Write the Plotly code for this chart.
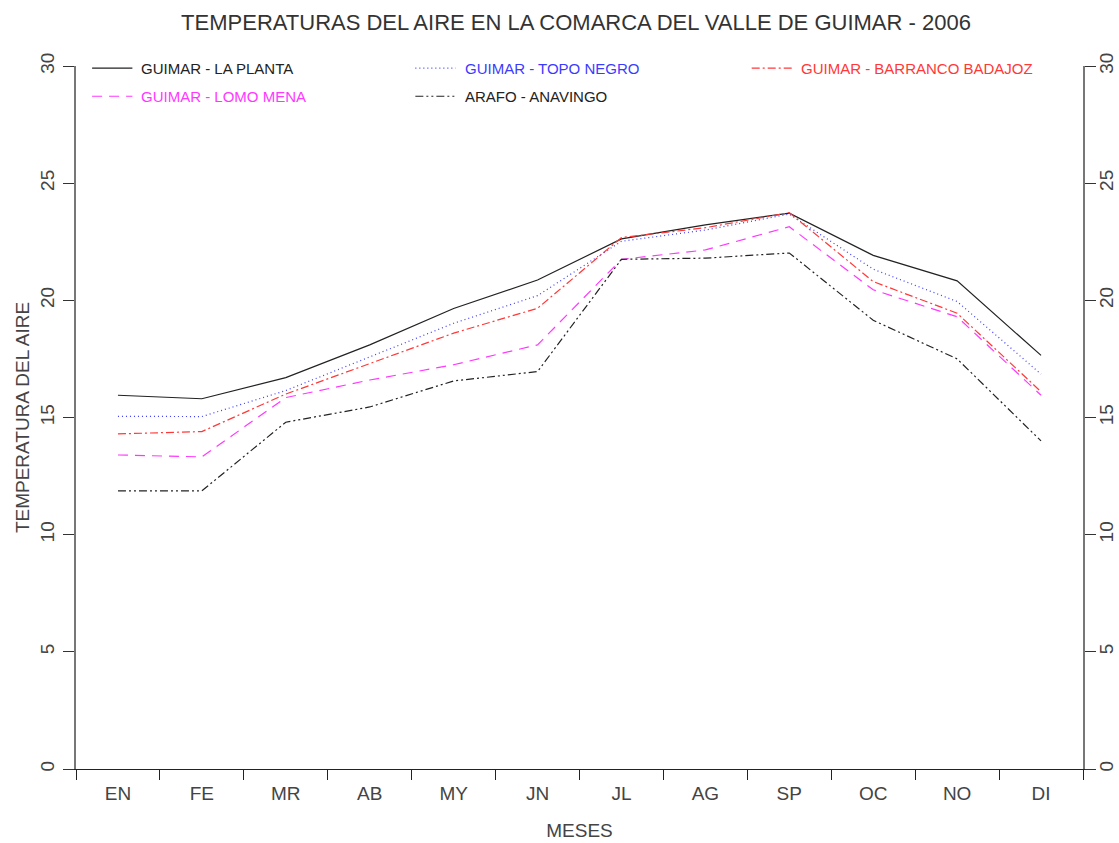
import plotly.graph_objects as go

months = ["EN", "FE", "MR", "AB", "MY", "JN", "JL", "AG", "SP", "OC", "NO", "DI"]
la_planta = [15.95, 15.8, 16.7, 18.1, 19.65, 20.87, 22.62, 23.22, 23.72, 21.92, 20.83, 17.65]
topo_negro = [15.05, 15.04, 16.15, 17.6, 19.02, 20.2, 22.52, 23.0, 23.68, 21.33, 19.95, 16.85]
barranco_badajoz = [14.3, 14.4, 16.0, 17.3, 18.6, 19.66, 22.68, 23.1, 23.74, 20.8, 19.45, 16.1]
lomo_mena = [13.4, 13.32, 15.85, 16.6, 17.25, 18.1, 21.75, 22.15, 23.14, 20.45, 19.3, 15.95]
arafo_anavingo = [11.87, 11.87, 14.8, 15.45, 16.56, 16.96, 21.75, 21.8, 22.02, 19.15, 17.5, 14.0]

series = [
    ("GUIMAR - LA PLANTA", la_planta, "#222222", "solid"),
    ("GUIMAR - TOPO NEGRO", topo_negro, "#3b3bff", "1px,3px"),
    ("GUIMAR - BARRANCO BADAJOZ", barranco_badajoz, "#ff3838", "8px,3px,2px,3px"),
    ("GUIMAR - LOMO MENA", lomo_mena, "#ff38ff", "10px,7px"),
    ("ARAFO - ANAVINGO", arafo_anavingo, "#222222", "8px,3px,2px,3px,2px,3px"),
]

# legend slots (paper coordinates): x of sample start, y of row
legend_slots = [(0.016, 0.997), (0.337, 0.997), (0.671, 0.997),
                (0.016, 0.957), (0.337, 0.957)]
SAMPLE_W = 0.040
TEXT_GAP = 0.007

FONT = "Liberation Sans"
fig = go.Figure()
for name, vals, color, dash in series:
    fig.add_trace(go.Scatter(
        x=months, y=vals, mode="lines", name=name, showlegend=False,
        line=dict(color=color, width=1.2, dash=dash),
    ))
# hidden trace to activate the right-hand axis
fig.add_trace(go.Scatter(x=months, y=la_planta, yaxis="y2", mode="lines",
                         line=dict(color="rgba(0,0,0,0)"), showlegend=False,
                         hoverinfo="skip"))

# manual legend
for (name, _, color, dash), (lx, ly) in zip(series, legend_slots):
    fig.add_shape(type="line", xref="paper", yref="paper",
                  x0=lx, x1=lx + SAMPLE_W, y0=ly, y1=ly,
                  line=dict(color=color, width=1.2, dash=dash))
    fig.add_annotation(xref="paper", yref="paper", x=lx + SAMPLE_W + TEXT_GAP, y=ly,
                       xanchor="left", yanchor="middle", showarrow=False,
                       text=name, font=dict(family=FONT, size=15, color=color))

axis_font = dict(family=FONT, size=19, color="#444444")
fig.update_layout(
    width=1119, height=843,
    margin=dict(l=76, r=36, t=66, b=74),
    paper_bgcolor="white", plot_bgcolor="white",
    font=dict(family=FONT, color="#444444"),
    title=dict(text="TEMPERATURAS DEL AIRE EN LA COMARCA DEL VALLE DE GUIMAR - 2006",
               x=576 / 1119, xanchor="center", y=1 - 22 / 843, yanchor="middle",
               yref="container", font=dict(family=FONT, size=22, color="#333333")),
    showlegend=False,
    xaxis=dict(type="category", range=[-0.5, 11.5], tickson="boundaries",
               ticks="outside", ticklen=10, tickcolor="#222222",
               showline=True, linecolor="#222222", linewidth=1,
               showgrid=False, zeroline=False, tickfont=axis_font, automargin=False,
               ticklabelstandoff=7,
               title=dict(text="MESES", font=axis_font, standoff=20)),
    yaxis=dict(range=[0, 30], tickvals=[0, 5, 10, 15, 20, 25, 30],
               ticks="outside", ticklen=11, tickcolor="#333333",
               showline=True, linecolor="#777777", linewidth=1.5,
               showgrid=False, zeroline=False, tickangle=-90, automargin=False,
               tickfont=axis_font, ticklabelstandoff=2,
               title=dict(text="TEMPERATURA DEL AIRE", font=axis_font, standoff=2)),
    yaxis2=dict(range=[0, 30], tickvals=[0, 5, 10, 15, 20, 25, 30],
                overlaying="y", side="right", anchor="x", automargin=False,
                ticks="outside", ticklen=11, tickcolor="#333333",
                showline=True, linecolor="#777777", linewidth=1.5,
                showgrid=False, zeroline=False, tickangle=-90,
                ticklabelstandoff=-6, tickfont=axis_font),
)

fig.write_html("out.html", config={"displayModeBar": False},
               post_script="document.body.style.margin='0';document.body.style.overflow='hidden';")
